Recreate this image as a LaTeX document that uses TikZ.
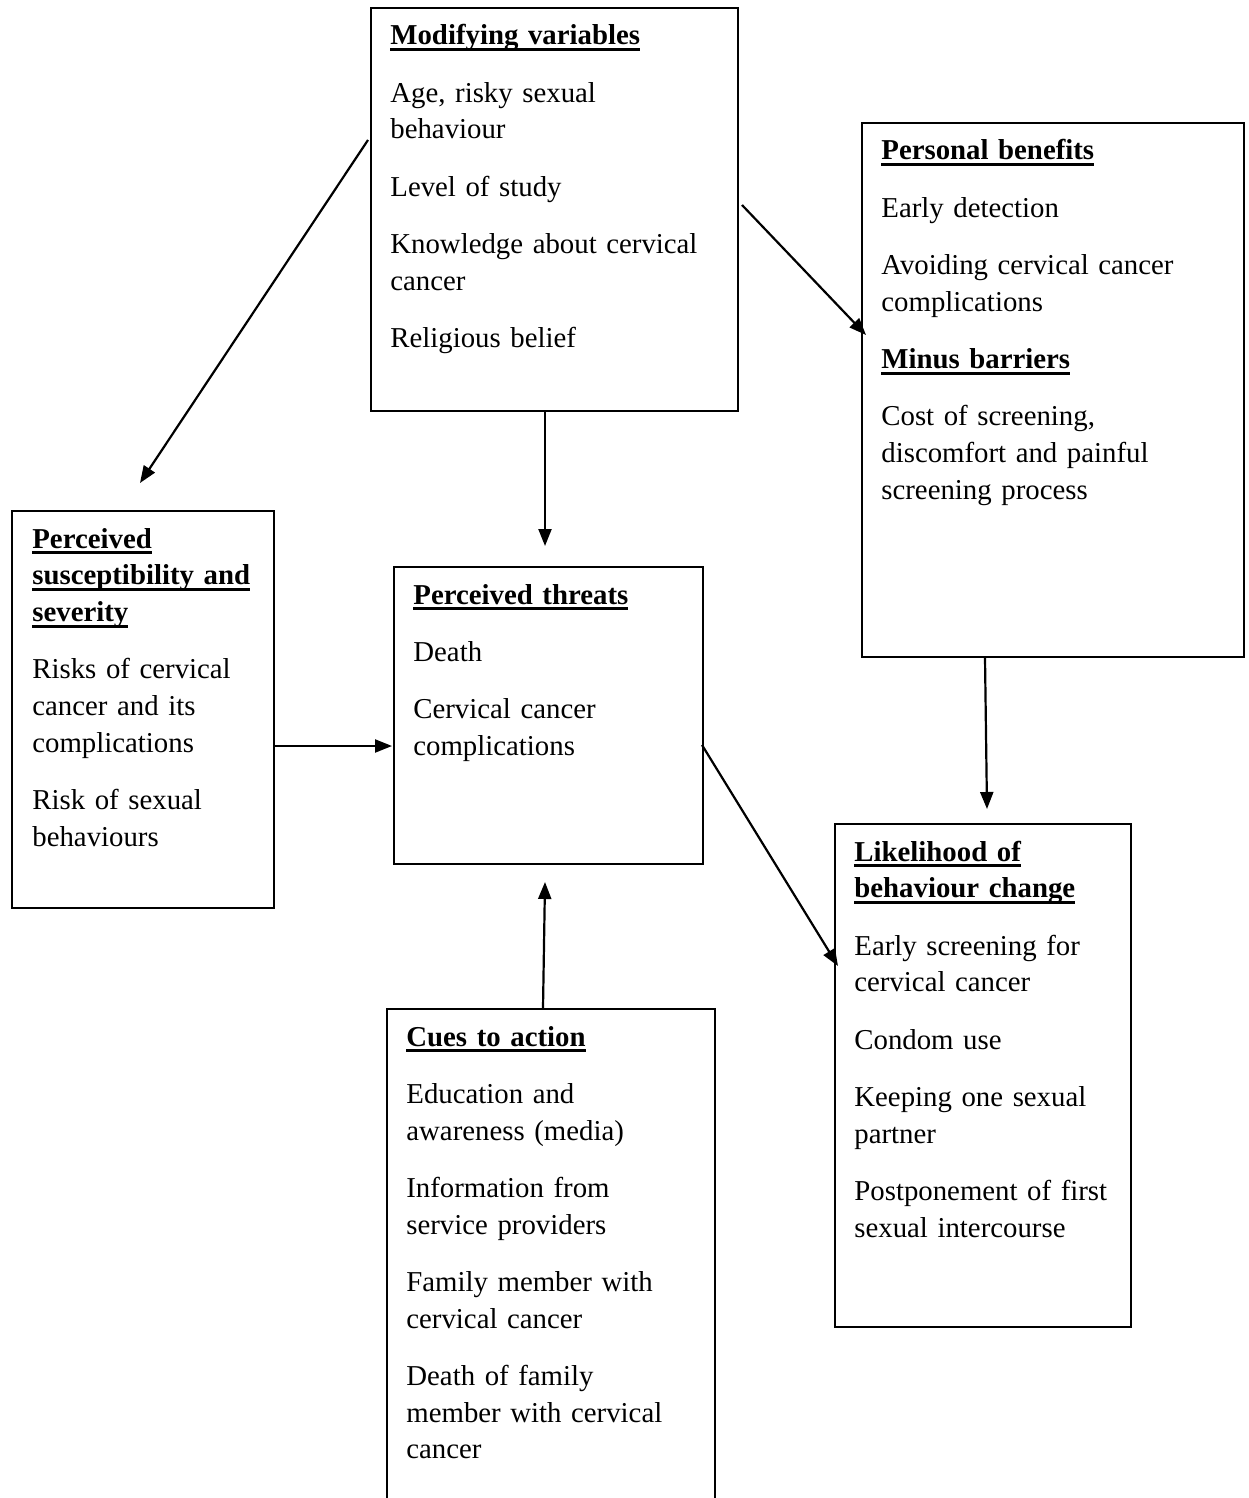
\documentclass[tikz,border=0pt]{standalone}
\usepackage{fontspec}
\setmainfont{Liberation Serif}
\usetikzlibrary{arrows.meta}
\tikzset{box/.style={draw, line width=1pt, anchor=north west, inner sep=0pt},
  txt/.style={anchor=base west, align=left, inner sep=0pt, text width=200pt, font=\fontsize{14.4}{18.4}\selectfont},
  arr/.style={line width=1.1pt, -{Triangle[length=8.5pt,width=6.5pt]}}}
\newcommand{\hdline}[1]{\leavevmode\setbox0\hbox{\bfseries #1}\rlap{\vrule width\wd0 height -1.7pt depth 3.1pt}\box0}
\newcommand{\gap}{\\[10.2pt]}

\begin{document}
\begin{tikzpicture}[x=0.5pt, y=-0.5pt]
    \useasboundingbox (0,0) rectangle (1248,1498);
    \clip (0,0) rectangle (1248,1498);
    % boxes
    \node[box, minimum width=183.5pt, minimum height=201.5pt] (mod) at (370,7) {};
    \node[box, minimum width=191pt, minimum height=267pt] (ben) at (861,122) {};
    \node[box, minimum width=131pt, minimum height=198.5pt] (sus) at (11,510) {};
    \node[box, minimum width=154.5pt, minimum height=148.5pt] (thr) at (393,566) {};
    \node[box, minimum width=148pt, minimum height=251.5pt] (lik) at (834,823) {};
    \node[box, minimum width=164pt, minimum height=270pt] (cue) at (386,1008) {};
    % texts
    \node[txt] (modtxt) at ([shift={(20,38)}]mod.north west) {\hdline{Modifying variables}\gap
      Age, risky sexual\\ behaviour\gap Level of study\gap Knowledge about cervical\\ cancer\gap Religious belief};
    \node[txt] (bentxt) at ([shift={(20,38)}]ben.north west) {\hdline{Personal benefits}\gap
      Early detection\gap Avoiding cervical cancer\\ complications\gap \hdline{Minus barriers}\gap
      Cost of screening,\\ discomfort and painful\\ screening process};
    \node[txt] (sustxt) at ([shift={(21,38)}]sus.north west) {\hdline{Perceived}\\ \hdline{susceptibility and}\\ \hdline{severity}\gap
      Risks of cervical\\ cancer and its\\ complications\gap Risk of sexual\\ behaviours};
    \node[txt] (thrtxt) at ([shift={(20,38)}]thr.north west) {\hdline{Perceived threats}\gap
      Death\gap Cervical cancer\\ complications};
    \node[txt] (liktxt) at ([shift={(20,38)}]lik.north west) {\hdline{Likelihood of}\\ \hdline{behaviour change}\gap
      Early screening for\\ cervical cancer\gap Condom use\gap Keeping one sexual\\ partner\gap
      Postponement of first\\ sexual intercourse};
    \node[txt] (cuetxt) at ([shift={(20,38)}]cue.north west) {\hdline{Cues to action}\gap
      Education and\\ awareness (media)\gap Information from\\ service providers\gap
      Family member with\\ cervical cancer\gap Death of family\\ member with cervical\\ cancer};
    % arrow tips
    \coordinate (susin) at (140,483);
    \coordinate (thrtop) at (545,546);
    \coordinate (benin) at (866,335);
    \coordinate (liktop) at (987,809);
    \coordinate (thrleft) at (392,746);
    \coordinate (thrbot) at (545,882);
    \coordinate (likleft) at (838,966);
    % arrows
    \draw[arr] ([shift={(-2,133)}]mod.north west) -- (susin);
    \draw[arr] (mod.south -| thrtop) -- (thrtop);
    \draw[arr] ([shift={(3,198)}]mod.north east) -- (benin);
    \draw[arr] ([shift={(124,0)}]ben.south west) -- (liktop);
    \draw[arr] (sus.east |- thrleft) -- (thrleft);
    \draw[arr] ([shift={(157,0)}]cue.north west) -- (thrbot);
    \draw[arr] ([shift={(-2,179)}]thr.north east) -- (likleft);
\end{tikzpicture}
\end{document}
